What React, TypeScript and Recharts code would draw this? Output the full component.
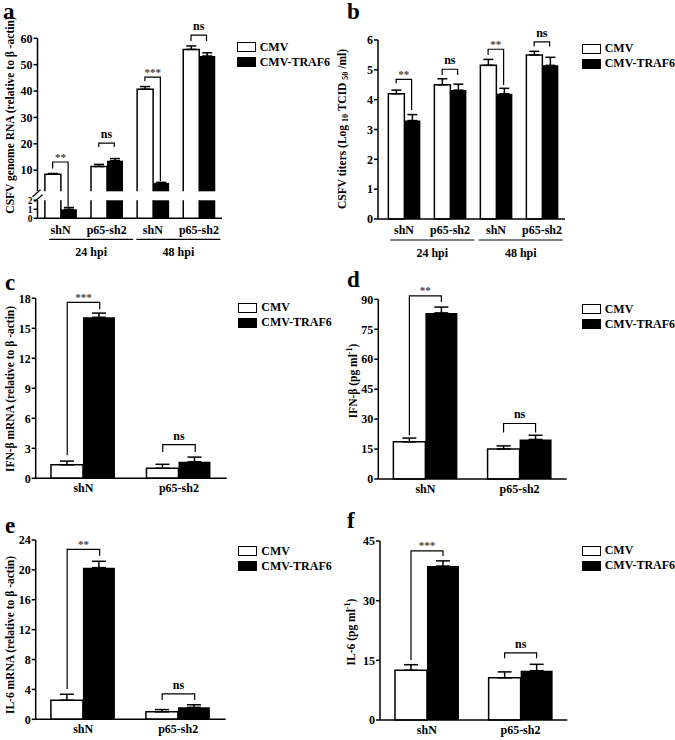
import React from "react";
import { BarChart, Bar, XAxis, YAxis, ErrorBar, Legend } from "recharts";

const FONT = '"Liberation Serif", "Times New Roman", Times, serif';

// legend series
const seriesNames = ["CMV", "CMV-TRAF6"];
const seriesFills = ["#ffffff", "#000000"];

// a: CSFV genome RNA (broken axis 0-2 / 2-60)
const catsAB = ["shN", "p65-sh2", "shN", "p65-sh2"];
const timesAB = ["24 hpi", "24 hpi", "48 hpi", "48 hpi"];
const rnaCmv = [8.5, 11.4, 40.7, 55.8];
const rnaCmvErr = [0.25, 0.8, 1.0, 1.3];
const rnaTraf = [1.0, 13.6, 5.2, 53.3];
const rnaTrafErr = [0.2, 0.8, 0.2, 1.2];
const rnaSig = ["**", "ns", "***", "ns"];
const rnaBrTop = [13.1, 20.3, 45.3, 61.2];
const rnaLegL = [10.6, 18.8, 43.7, 59.0];
const rnaLegR = [1.27, 18.8, 5.9, 59.0];
const rnaTicks = [0, 1, 2, 10, 20, 30, 40, 50, 60];

// b: CSFV titers
const titerCmv = [4.2, 4.5, 5.15, 5.5];
const titerCmvErr = [0.12, 0.2, 0.2, 0.12];
const titerTraf = [3.3, 4.32, 4.2, 5.15];
const titerTrafErr = [0.2, 0.2, 0.18, 0.27];
const titerSig = ["**", "ns", "**", "ns"];
const titerBrTop = [4.68, 5.02, 5.69, 5.94];
const titerLegL = [4.55, 4.83, 5.5, 5.78];
const titerLegR = [3.65, 4.83, 4.49, 5.78];
const titerTicks = [0, 1, 2, 3, 4, 5, 6];

// c-f: shN / p65-sh2
const catsCF = ["shN", "p65-sh2"];

const ifnMrnaCmv = [1.35, 1.0];
const ifnMrnaCmvErr = [0.37, 0.4];
const ifnMrnaTraf = [16.1, 1.65];
const ifnMrnaTrafErr = [0.42, 0.47];
const ifnMrnaSig = ["***", "ns"];
const ifnMrnaBrTop = [17.6, 3.37];
const ifnMrnaLegL = [2.3, 2.63];
const ifnMrnaLegR = [16.9, 2.63];
const ifnMrnaTicks = [0, 3, 6, 9, 12, 15, 18];

const ifnProtCmv = [18.6, 15.0];
const ifnProtCmvErr = [1.9, 1.6];
const ifnProtTraf = [83.2, 19.8];
const ifnProtTrafErr = [2.9, 2.1];
const ifnProtSig = ["**", "ns"];
const ifnProtBrTop = [91.7, 27.8];
const ifnProtLegL = [22, 23.3];
const ifnProtLegR = [88.6, 23.3];
const ifnProtTicks = [0, 15, 30, 45, 60, 75, 90];

const il6MrnaCmv = [2.55, 1.0];
const il6MrnaCmvErr = [0.8, 0.3];
const il6MrnaTraf = [20.3, 1.6];
const il6MrnaTrafErr = [0.85, 0.35];
const il6MrnaSig = ["**", "ns"];
const il6MrnaBrTop = [22.75, 3.39];
const il6MrnaLegL = [4.06, 2.58];
const il6MrnaLegR = [21.9, 2.58];
const il6MrnaTicks = [0, 4, 8, 12, 16, 20, 24];

const il6ProtCmv = [12.5, 10.6];
const il6ProtCmvErr = [1.4, 1.5];
const il6ProtTraf = [38.7, 12.4];
const il6ProtTrafErr = [1.3, 1.6];
const il6ProtSig = ["***", "ns"];
const il6ProtBrTop = [42.5, 16.9];
const il6ProtLegL = [15.1, 15.5];
const il6ProtLegR = [41.2, 15.5];
const il6ProtTicks = [0, 15, 30, 45];

type Seg = { t: string; s?: "sub" | "sup" };
const titleA: Seg[] = [{ t: "CSFV genome RNA (relative to β -actin)" }];
const titleB: Seg[] = [
  { t: "CSFV titers (Log " },
  { t: "10", s: "sub" },
  { t: " TCID " },
  { t: "50", s: "sub" },
  { t: " /ml)" },
];
const titleC: Seg[] = [{ t: "IFN-β  mRNA (relative to β -actin)" }];
const titleD: Seg[] = [{ t: "IFN-β  (pg ml" }, { t: "-1", s: "sup" }, { t: ")" }];
const titleE: Seg[] = [{ t: "IL-6 mRNA (relative to β -actin)" }];
const titleF: Seg[] = [{ t: "IL-6 (pg ml" }, { t: "-1", s: "sup" }, { t: ")" }];

// broken axis for panel a: lower 0-2, gap, upper 2-60 (display units)
const LOW_MAX = 2;
const UP_MAX = 60;
const LOW_H = 18;
const GAP_H = 9;
const UP_H = 153;
const A_MAX = LOW_H + GAP_H + UP_H;
const BREAK_AT = LOW_H + GAP_H / 2;
const brk = (v: number) =>
  v <= LOW_MAX
    ? (v / LOW_MAX) * LOW_H
    : LOW_H + GAP_H + ((v - LOW_MAX) / (UP_MAX - LOW_MAX)) * UP_H;
const ident = (v: number) => v;

function makeRows(o: any) {
  const f = o.f || ident;
  return o.cats.map((cat: string, i: number) => ({
    cat,
    time: o.times ? o.times[i] : undefined,
    cmv: f(o.cmv[i]),
    cmvErr: [0, f(o.cmv[i] + o.cmvErr[i]) - f(o.cmv[i])],
    traf: f(o.traf[i]),
    trafErr: [0, f(o.traf[i] + o.trafErr[i]) - f(o.traf[i])],
    brTop: f(o.brTop[i]),
    legL: f(o.legL[i]),
    legR: f(o.legR[i]),
    sig: o.sig[i],
  }));
}

const dataA = makeRows({
  cats: catsAB, times: timesAB, cmv: rnaCmv, cmvErr: rnaCmvErr, traf: rnaTraf,
  trafErr: rnaTrafErr, brTop: rnaBrTop, legL: rnaLegL, legR: rnaLegR, sig: rnaSig, f: brk,
});
const dataB = makeRows({
  cats: catsAB, times: timesAB, cmv: titerCmv, cmvErr: titerCmvErr, traf: titerTraf,
  trafErr: titerTrafErr, brTop: titerBrTop, legL: titerLegL, legR: titerLegR, sig: titerSig,
});
const dataC = makeRows({
  cats: catsCF, cmv: ifnMrnaCmv, cmvErr: ifnMrnaCmvErr, traf: ifnMrnaTraf, trafErr: ifnMrnaTrafErr,
  brTop: ifnMrnaBrTop, legL: ifnMrnaLegL, legR: ifnMrnaLegR, sig: ifnMrnaSig,
});
const dataD = makeRows({
  cats: catsCF, cmv: ifnProtCmv, cmvErr: ifnProtCmvErr, traf: ifnProtTraf, trafErr: ifnProtTrafErr,
  brTop: ifnProtBrTop, legL: ifnProtLegL, legR: ifnProtLegR, sig: ifnProtSig,
});
const dataE = makeRows({
  cats: catsCF, cmv: il6MrnaCmv, cmvErr: il6MrnaCmvErr, traf: il6MrnaTraf, trafErr: il6MrnaTrafErr,
  brTop: il6MrnaBrTop, legL: il6MrnaLegL, legR: il6MrnaLegR, sig: il6MrnaSig,
});
const dataF = makeRows({
  cats: catsCF, cmv: il6ProtCmv, cmvErr: il6ProtCmvErr, traf: il6ProtTraf, trafErr: il6ProtTrafErr,
  brTop: il6ProtBrTop, legL: il6ProtLegL, legR: il6ProtLegR, sig: il6ProtSig,
});

const AXIS = { stroke: "#000", strokeWidth: 1.5 };
const TICK = { fill: "#000", fontSize: 12, fontWeight: "bold", fontFamily: FONT };
const TS = 4;
const TM = 1;

// significance bracket, scaled from the overlay bar (value = legL)
const Bracket = (p: any) => {
  const { x, y, width, height, payload } = p;
  if (!payload || !(height > 0)) return <g />;
  const base = y + height;
  const k = height / payload.legL;
  const py = (v: number) => base - v * k;
  const xl = x + width / 4;
  const xr = x + (width * 3) / 4;
  const top = py(payload.brTop);
  const star = payload.sig.startsWith("*");
  return (
    <g>
      <path
        d={`M${xl},${py(payload.legL)}V${top}H${xr}V${py(payload.legR)}`}
        fill="none"
        stroke="#000"
        strokeWidth={1.2}
      />
      <text
        x={(xl + xr) / 2}
        y={star ? top - 1.5 : top - 5}
        textAnchor="middle"
        fontFamily={FONT}
        fontWeight="bold"
        fontSize={star ? 11 : 12}
        fill={star ? "#444" : "#000"}
      >
        {payload.sig}
      </text>
    </g>
  );
};

// bars split at the axis break (panel a)
const breakBar = (key: string, white: boolean) => (p: any) => {
  const { x, y, width, height, payload } = p;
  if (!payload || !(height > 0)) return <g />;
  const base = y + height;
  const k = height / payload[key];
  const lowTop = base - LOW_H * k;
  const upBot = base - (LOW_H + GAP_H) * k;
  const lowY = Math.max(y, lowTop);
  const closedLow = y >= lowTop - 0.01;
  return (
    <g>
      {white ? (
        <>
          <rect x={x} y={lowY} width={width} height={base - lowY} fill="#fff" />
          <path
            d={`M${x},${base}V${lowY}${closedLow ? `H${x + width}` : `M${x + width},${lowY}`}V${base}`}
            fill="none"
            stroke="#000"
            strokeWidth={1.5}
          />
        </>
      ) : (
        <rect x={x} y={lowY} width={width} height={base - lowY} fill="#000" />
      )}
      {y < upBot &&
        (white ? (
          <path d={`M${x},${upBot}V${y}H${x + width}V${upBot}`} fill="#fff" stroke="#000" strokeWidth={1.5} />
        ) : (
          <rect x={x} y={y} width={width} height={upBot - y} fill="#000" />
        ))}
    </g>
  );
};
const cmvBreak = breakBar("cmv", true);
const trafBreak = breakBar("traf", false);

const BreakTick = (p: any) => {
  const { x, y, payload } = p;
  const ax = x + TS + TM;
  if (Math.abs(payload.value - BREAK_AT) < 1e-6) {
    return (
      <g stroke="#000" strokeWidth={1.2}>
        <line x1={ax - 5} y1={y + 1} x2={ax + 3} y2={y - 6} />
        <line x1={ax - 3} y1={y + 6} x2={ax + 5} y2={y - 1} />
      </g>
    );
  }
  const v = rnaTicks.find((t) => Math.abs(brk(t) - payload.value) < 1e-6);
  const small = v !== undefined && v <= LOW_MAX;
  return (
    <g>
      <line x1={ax - TS} x2={ax} y1={y} y2={y} stroke="#000" strokeWidth={1.5} />
      <text x={x} y={y} dy="0.35em" textAnchor="end" {...TICK} fontSize={small ? 9.5 : 12}>
        {v}
      </text>
    </g>
  );
};

const HpiTick = (p: any) => {
  const { x, y, payload } = p;
  return (
    <g>
      <line x1={x - 42} x2={x + 42} y1={y + 3} y2={y + 3} stroke="#000" strokeWidth={1.2} />
      <text x={x} y={y + 19.5} textAnchor="middle" {...TICK}>
        {payload.value}
      </text>
    </g>
  );
};

const LegendBox = () => (
  <div style={{ fontFamily: FONT, fontWeight: "bold", fontSize: 12, color: "#000" }}>
    {seriesNames.map((n, i) => (
      <div key={n} style={{ display: "flex", alignItems: "center", height: 15, whiteSpace: "nowrap" }}>
        <span
          style={{
            display: "inline-block",
            boxSizing: "border-box",
            width: 19,
            height: 10,
            border: "1.5px solid #000",
            background: seriesFills[i],
            marginRight: 4,
          }}
        />
        {n}
      </div>
    ))}
  </div>
);

function Panel(p: any) {
  const pad = { left: p.padLeft || 0, right: 0 };
  return (
    <div style={{ position: "absolute", left: p.left, top: p.top }}>
      <BarChart
        width={p.width}
        height={p.height}
        data={p.data}
        margin={p.margin}
        barCategoryGap="16%"
        barGap={0}
      >
        <XAxis
          xAxisId="cat"
          dataKey="cat"
          height={p.catHeight}
          interval={0}
          tickLine={false}
          tickSize={0}
          tickMargin={p.catMargin}
          axisLine={AXIS}
          tick={TICK}
          padding={pad}
        />
        {p.hpi && (
          <XAxis
            xAxisId="hpi"
            dataKey="time"
            allowDuplicatedCategory={false}
            height={28}
            interval={0}
            axisLine={false}
            tickLine={false}
            tickSize={0}
            tickMargin={0}
            tick={HpiTick}
            padding={{ left: 10, right: 0 }}
          />
        )}
        <XAxis xAxisId="zbr" dataKey="cat" hide height={0} padding={pad} />
        <YAxis
          type="number"
          domain={p.yDomain}
          ticks={p.yTicks}
          interval={0}
          width={p.yWidth}
          tickSize={TS}
          tickMargin={TM}
          axisLine={
            p.broken ? { ...AXIS, strokeDasharray: `${UP_H} ${GAP_H} ${LOW_H} 1000` } : AXIS
          }
          tickLine={p.broken ? false : AXIS}
          tick={p.broken ? BreakTick : TICK}
        />
        <Bar
          xAxisId="cat"
          dataKey="cmv"
          name={seriesNames[0]}
          fill={seriesFills[0]}
          stroke="#000"
          strokeWidth={1.5}
          shape={p.broken ? cmvBreak : undefined}
          isAnimationActive={false}
        >
          <ErrorBar dataKey="cmvErr" direction="y" width={p.cap} stroke="#000" strokeWidth={1.5} />
        </Bar>
        <Bar
          xAxisId="cat"
          dataKey="traf"
          name={seriesNames[1]}
          fill={seriesFills[1]}
          shape={p.broken ? trafBreak : undefined}
          isAnimationActive={false}
        >
          <ErrorBar dataKey="trafErr" direction="y" width={p.cap} stroke="#000" strokeWidth={1.5} />
        </Bar>
        <Bar xAxisId="zbr" dataKey="legL" shape={Bracket} legendType="none" isAnimationActive={false} />
        <Legend
          layout="vertical"
          align="center"
          verticalAlign="middle"
          content={() => <LegendBox />}
          wrapperStyle={{ left: p.legend[0], top: p.legend[1], width: "auto", height: "auto" }}
        />
      </BarChart>
    </div>
  );
}

const YTitle = ({ cx, cy, segs }: { cx: number; cy: number; segs: Seg[] }) => {
  let shift = 0;
  return (
    <text
      transform={`translate(${cx},${cy}) rotate(-90)`}
      textAnchor="middle"
      dominantBaseline="central"
      fontFamily={FONT}
      fontWeight="bold"
      fontSize={11.5}
      fill="#000"
    >
      {segs.map((s, i) => {
        const target = s.s === "sub" ? 3 : s.s === "sup" ? -4 : 0;
        const dy = target - shift;
        shift = target;
        return (
          <tspan key={i} dy={dy !== 0 ? dy : undefined} fontSize={s.s ? 8 : undefined}>
            {s.t}
          </tspan>
        );
      })}
    </text>
  );
};

const Letter = ({ x, y, t }: { x: number; y: number; t: string }) => (
  <text x={x} y={y} fontFamily={FONT} fontWeight="bold" fontSize={23} fill="#000">
    {t}
  </text>
);

export default function App() {
  return (
    <div
      style={{
        position: "absolute",
        left: 0,
        top: 0,
        width: 675,
        height: 740,
        background: "#fff",
        overflow: "hidden",
      }}
    >
      <Panel
        left={0} top={20} width={335} height={250}
        margin={{ top: 18.3, right: 113, bottom: 5.7, left: 0 }}
        data={dataA} yWidth={37.5} yDomain={[0, A_MAX]}
        yTicks={[...rnaTicks.map(brk), BREAK_AT]}
        broken hpi catHeight={18} catMargin={7} cap={5} legend={[236.7, 19.5]}
      />
      <Panel
        left={335} top={20} width={340} height={250}
        margin={{ top: 20, right: 110, bottom: 5, left: 0 }}
        data={dataB} yWidth={43} yDomain={[0, 6]} yTicks={titerTicks}
        hpi padLeft={3} catHeight={18} catMargin={6} cap={5} legend={[246.7, 21]}
      />
      <Panel
        left={0} top={265} width={335} height={235}
        margin={{ top: 33.3, right: 108.3, bottom: 1.7, left: 0 }}
        data={dataC} yWidth={35.7} yDomain={[0, 18]} yTicks={ifnMrnaTicks}
        catHeight={20} catMargin={5} cap={7} legend={[238.3, 35]}
      />
      <Panel
        left={335} top={265} width={340} height={235}
        margin={{ top: 34.3, right: 108.3, bottom: 1, left: 0 }}
        data={dataD} yWidth={43.3} yDomain={[0, 90]} yTicks={ifnProtTicks}
        catHeight={20} catMargin={5} cap={7} legend={[246.7, 36.5]}
      />
      <Panel
        left={0} top={505} width={335} height={235}
        margin={{ top: 35, right: 109.3, bottom: 0.7, left: 0 }}
        data={dataE} yWidth={35.7} yDomain={[0, 24]} yTicks={il6MrnaTicks}
        catHeight={20} catMargin={5} cap={7} legend={[238.3, 38.5]}
      />
      <Panel
        left={335} top={505} width={340} height={235}
        margin={{ top: 36, right: 107.7, bottom: 0, left: 0 }}
        data={dataF} yWidth={45} yDomain={[0, 45]} yTicks={il6ProtTicks}
        catHeight={20} catMargin={5} cap={7} legend={[246.7, 38]}
      />
      <svg
        width={675}
        height={740}
        style={{ position: "absolute", left: 0, top: 0, pointerEvents: "none" }}
      >
        <Letter x={3} y={18.5} t="a" />
        <Letter x={347} y={18.5} t="b" />
        <Letter x={5} y={290} t="c" />
        <Letter x={347} y={287} t="d" />
        <Letter x={5} y={533} t="e" />
        <Letter x={347} y={528} t="f" />
        <YTitle cx={10} cy={115} segs={titleA} />
        <YTitle cx={342} cy={129} segs={titleB} />
        <YTitle cx={10} cy={389} segs={titleC} />
        <YTitle cx={353} cy={381} segs={titleD} />
        <YTitle cx={10} cy={635} segs={titleE} />
        <YTitle cx={351} cy={632} segs={titleF} />
      </svg>
    </div>
  );
}
